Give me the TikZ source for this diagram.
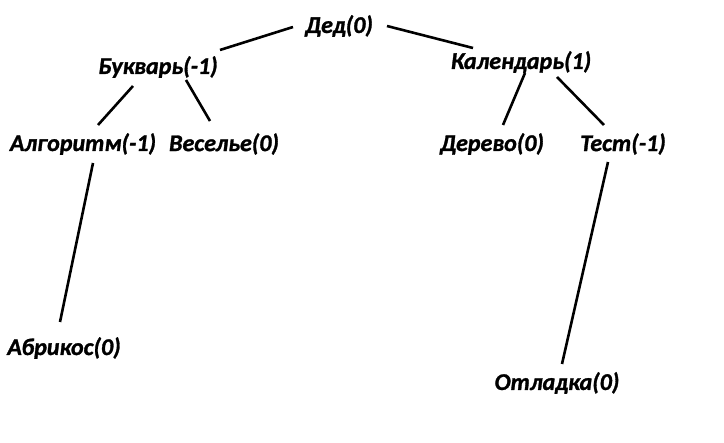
\documentclass[tikz,border=0pt]{standalone}
\usepackage{fontspec}
\setmainfont{Carlito}[BoldFont={Carlito Bold},ItalicFont={Carlito Italic},BoldItalicFont={Carlito Bold Italic},BoldItalicFeatures={FakeBold=1.2}]
\usetikzlibrary{calc}
\tikzset{
  lbl/.style={inner sep=0pt, font=\fontsize{24}{27}\selectfont\bfseries\itshape},
  edge/.style={line width=2.6pt, line cap=butt}
}
\begin{document}
\begin{tikzpicture}[x=1pt,y=-1pt]
\useasboundingbox (0,0) rectangle (724,443);
\node[lbl] (ded) at (339,26) {Дед(0)};
\node[lbl] (buk) at (158,67) {Букварь(-1)};
\node[lbl] (kal) at (521,62) {Календарь(1)};
\node[lbl] (alg) at (83,144) {Алгоритм(-1)};
\node[lbl] (ves) at (224,144) {Веселье(0)};
\node[lbl] (der) at (492,144) {Дерево(0)};
\node[lbl] (test) at (623,144) {Тест(-1)};
\node[lbl] (abr) at (64,348) {Абрикос(0)};
\node[lbl] (otl) at (557,383) {Отладка(0)};
\draw[edge] ($(ded)+(-46,1)$) -- ($(buk)+(62,-17)$);
\draw[edge] ($(ded)+(48,0)$) -- ($(kal)+(-48,-14)$);
\draw[edge] ($(buk)+(-25,19)$) -- ($(alg)+(15,-19)$);
\draw[edge] ($(buk)+(28,13)$) -- ($(ves)+(-14,-23)$);
\draw[edge] ($(kal)+(4,11)$) -- ($(der)+(11,-19)$);
\draw[edge] ($(kal)+(36,15)$) -- ($(test)+(-19,-19)$);
\draw[edge] ($(alg)+(10,19)$) -- ($(abr)+(-4,-26)$);
\draw[edge] ($(test)+(-15,18)$) -- ($(otl)+(5,-19)$);
\end{tikzpicture}
\end{document}
